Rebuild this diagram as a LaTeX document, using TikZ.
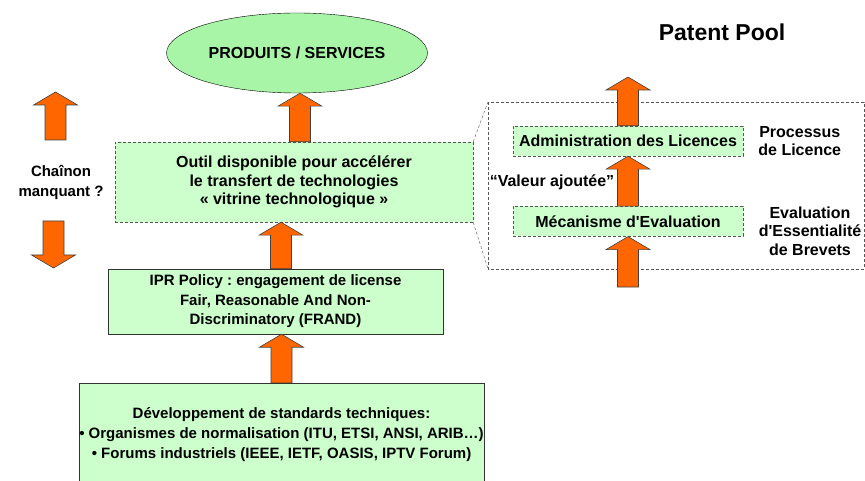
\documentclass[tikz,border=0pt]{standalone}
\usepackage{fontspec}
\setmainfont{Liberation Sans}
\usetikzlibrary{shapes.geometric, positioning, calc}
\frenchspacing

\definecolor{boxgreen}{HTML}{CCFFCC}
\definecolor{ovalgreen}{HTML}{A8F5A8}
\definecolor{arroworange}{HTML}{FF6600}
\definecolor{edgegray}{HTML}{555555}

\begin{document}
\begin{tikzpicture}[x=1pt, y=-1pt,
    font=\bfseries\fontsize{16}{18.5}\selectfont,
    box/.style={draw=black!80, fill=boxgreen, align=center, inner sep=0pt},
    dashbox/.style={box, draw=edgegray, dash pattern=on 3pt off 2pt},
    note/.style={align=center, inner sep=0pt},
    bigarrow/.style={draw=black!75, line width=0.6pt, fill=arroworange,
        to path={let \p1=(\tikztostart), \p2=(\tikztotarget),
            \p3=($(\x1,\y2)!13pt!(\p1)$) in
            (\x1-10.5pt,\y1) -- (\x1-10.5pt,\y3) -- (\x1-22pt,\y3) -- (\x1,\y2)
            -- (\x1+22pt,\y3) -- (\x1+10.5pt,\y3) -- (\x1+10.5pt,\y1) -- cycle}}]
    \useasboundingbox (0,0) rectangle (865,481);

    % main chain
    \node[ellipse, draw=black, fill=ovalgreen, minimum width=261pt, minimum height=80pt,
        inner sep=0pt] (produits) at (297,53) {PRODUITS / SERVICES};
    \node[dashbox, minimum width=358pt, minimum height=80pt] (outil) at (294,182)
        {Outil disponible pour accélérer\\le transfert de technologies\\« vitrine technologique »};
    \node[box, minimum width=335pt, minimum height=65pt,
        font=\bfseries\fontsize{15}{19.5}\selectfont] (ipr) at (275.5,301.5)
        {IPR Policy : engagement de license\\Fair, Reasonable And Non-\\Discriminatory (FRAND)};
    \node[box, minimum width=399pt, minimum height=104pt,
        font=\bfseries\fontsize{15}{20}\selectfont] (dev) at (281.5,435)
        {Développement de standards techniques:\\• Organismes de normalisation (ITU, ETSI, ANSI, ARIB…)\\•  Forums industriels (IEEE, IETF, OASIS, IPTV Forum)};

    % missing link
    \node[note, font=\bfseries\fontsize{15}{20}\selectfont] (chainon) at (61,182) {Chaînon\\manquant ?};
    \coordinate (gapup0) at (55.5,140);
    \coordinate (gapup1) at (55.5,92);
    \coordinate (gapdown0) at (53.5,221);
    \coordinate (gapdown1) at (53.5,268);

    % patent pool
    \node[font=\bfseries\fontsize{23}{26}\selectfont] (title) at (722,32) {Patent Pool};
    \coordinate (pool-nw) at (488,102);
    \coordinate (pool-se) at (864,269);
    \draw[edgegray, dash pattern=on 3pt off 2pt] (pool-nw) rectangle (pool-se);
    \draw[edgegray, dash pattern=on 3pt off 2pt] (outil.north east) -- (pool-nw)
        (outil.south east) -- (pool-nw |- pool-se);
    \node[dashbox, minimum width=230pt, minimum height=30pt] (admin) at (628,141)
        {Administration des Licences};
    \node[dashbox, minimum width=230pt, minimum height=30pt, below=50pt of admin] (mecanisme)
        {Mécanisme d\textquotesingle Evaluation};
    \node[note] (valeur) at (552,182) {“Valeur ajoutée”};
    \node[note, right=15pt of admin] (processus) {Processus\\de Licence};
    \node[note] (evaluation) at (810,231) {Evaluation\\d\textquotesingle Essentialité\\de Brevets};
    \coordinate (poolout) at (628,77);
    \coordinate (poolin) at (628,287);

    % block arrows
    \draw[bigarrow] ([xshift=6pt]outil.north) to (produits.south);
    \draw[bigarrow] ([xshift=5.5pt]ipr.north) to (outil.south);
    \draw[bigarrow] (dev.north) to (ipr.south);
    \draw[bigarrow] (gapup0) to (gapup1);
    \draw[bigarrow] (gapdown0) to (gapdown1);
    \draw[bigarrow] (admin.north) to (poolout);
    \draw[bigarrow] (mecanisme.north) to (admin.south);
    \draw[bigarrow] (poolin) to (mecanisme.south);
\end{tikzpicture}
\end{document}
